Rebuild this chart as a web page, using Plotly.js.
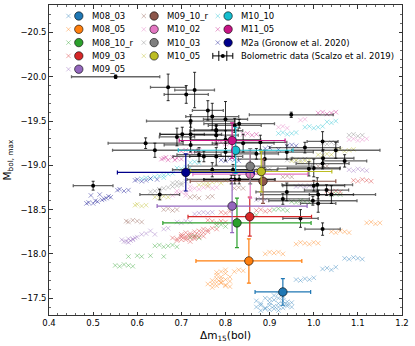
<!DOCTYPE html>
<html>
<head>
<meta charset="utf-8">
<script src="https://cdn.plot.ly/plotly-3.0.1.min.js"></script>
<style>html,body{margin:0;padding:0;background:#fff}</style>
</head>
<body>
<div id="plot" style="width:415px;height:346px"></div>
<script>
// model names, colours and mean values (with 1-sigma spread)
const modelNames = ['M08_03', 'M08_05', 'M08_10_r', 'M09_03', 'M09_05', 'M09_10_r',
    'M10_02', 'M10_03', 'M10_05', 'M10_10', 'M11_05', 'M2a (Gronow et al. 2020)'];
const modelColors = ['#1f77b4', '#ff7f0e', '#2ca02c', '#d62728', '#9467bd', '#8c564b',
    '#e377c2', '#7f7f7f', '#bcbd22', '#17becf', '#c71585', '#00008b'];
const meanDm15 = [0.930, 0.853, 0.826, 0.855, 0.815, 0.885, 0.856, 0.856, 0.881, 0.823, 0.815, 0.710];
const meanMbol = [-17.57, -17.92, -18.35, -18.42, -18.54, -18.82, -18.90, -18.99, -18.93, -19.17, -19.28, -18.92];
const meanDm15Err = [0.063, 0.12, 0.168, 0.14, 0.17, 0.165, 0.13, 0.14, 0.16, 0.13, 0.12, 0.155];
const meanMbolErr = [0.15, 0.25, 0.28, 0.22, 0.30, 0.25, 0.27, 0.20, 0.23, 0.26, 0.20, 0.21];

// viewing-angle samples per model
const m08_03_x = [0.87,0.88,0.89,0.90,0.91,0.92,0.93,0.94,0.95,0.87,0.88,0.89,0.90,0.91,0.92,0.93,0.94,0.95,0.88,0.90,0.91,0.92,0.93,0.94,0.89,0.91,0.92,0.93,0.90,0.92,0.96,0.97,0.98,0.99,1.00,1.02,1.03,1.04,1.05,1.07,1.08,1.09,1.10,1.11];
const m08_03_y = [-17.40,-17.42,-17.38,-17.45,-17.41,-17.44,-17.39,-17.43,-17.40,-17.47,-17.36,-17.50,-17.37,-17.48,-17.40,-17.52,-17.46,-17.45,-17.44,-17.42,-17.53,-17.50,-17.47,-17.41,-17.39,-17.38,-17.55,-17.43,-17.49,-17.36,-17.71,-17.70,-17.72,-17.71,-17.73,-17.83,-17.84,-17.82,-17.85,-17.95,-17.94,-17.96,-17.95,-17.94];
const m08_05_x = [0.77,0.78,0.79,0.80,0.81,0.77,0.78,0.79,0.80,0.81,0.78,0.79,0.80,0.76,0.77,0.79,0.80,0.78,0.79,0.81,0.82,0.83,0.84,0.80,0.78,0.89,0.90,0.91,0.92,0.93,0.96,0.97,0.98,0.99,1.00,1.01,1.04,1.05,1.06,1.07,1.08,1.12,1.13,1.14,1.15];
const m08_05_y = [-17.66,-17.64,-17.67,-17.65,-17.63,-17.70,-17.72,-17.68,-17.71,-17.69,-17.76,-17.74,-17.78,-17.66,-17.62,-17.80,-17.64,-17.68,-17.71,-17.74,-17.80,-17.82,-17.81,-17.82,-17.79,-18.00,-18.02,-18.01,-18.02,-18.00,-18.11,-18.13,-18.12,-18.11,-18.13,-18.12,-18.25,-18.24,-18.26,-18.25,-18.24,-18.35,-18.36,-18.34,-18.35];
const m08_10_r_x = [0.55,0.56,0.57,0.58,0.59,0.58,0.60,0.61,0.63,0.66,0.64,0.65,0.66,0.67,0.68,0.69,0.72,0.73,0.74,0.78,0.79,0.80,0.86,0.87,0.91,0.92,0.93,0.94,0.95,0.96,0.97,0.98,0.99,1.04,1.05,1.06];
const m08_10_r_y = [-17.87,-17.86,-17.88,-17.87,-17.86,-17.97,-17.98,-17.97,-17.98,-17.97,-18.09,-18.10,-18.08,-18.09,-18.10,-18.08,-18.19,-18.20,-18.18,-18.32,-18.33,-18.31,-18.43,-18.44,-18.50,-18.51,-18.50,-18.49,-18.59,-18.58,-18.60,-18.59,-18.58,-18.67,-18.68,-18.67];
const m09_03_x = [0.68,0.69,0.70,0.71,0.72,0.73,0.74,0.75,0.69,0.70,0.71,0.72,0.73,0.74,0.70,0.71,0.72,0.73,0.71,0.72,0.74,0.75,0.76,0.70,0.73,0.75,0.76,0.77,0.78,0.78,0.79,0.80,0.76,0.77,0.79,0.80,0.81,0.87,0.88,0.89,0.90,1.03,1.04,1.05,1.06,1.09,1.10,1.11,1.12,1.13];
const m09_03_y = [-18.18,-18.17,-18.19,-18.20,-18.18,-18.21,-18.22,-18.24,-18.15,-18.22,-18.16,-18.23,-18.17,-18.19,-18.20,-18.24,-18.14,-18.25,-18.18,-18.21,-18.26,-18.20,-18.25,-18.16,-18.19,-18.28,-18.27,-18.29,-18.28,-18.35,-18.37,-18.36,-18.38,-18.37,-18.47,-18.46,-18.48,-18.49,-18.50,-18.48,-18.49,-18.71,-18.70,-18.71,-18.70,-18.83,-18.82,-18.84,-18.83,-18.82];
const m09_05_x = [0.565,0.575,0.58,0.585,0.59,0.595,0.60,0.57,0.58,0.59,0.61,0.62,0.63,0.64,0.66,0.67,0.69,0.70,0.71,0.72,0.73,0.74,0.75,0.76,0.77,0.87,0.88,0.89,0.96,0.97,0.98,0.99,1.00,1.08,1.09,1.10,1.11,1.12];
const m09_05_y = [-18.16,-18.14,-18.17,-18.15,-18.16,-18.18,-18.19,-18.14,-18.13,-18.17,-18.22,-18.23,-18.26,-18.22,-18.28,-18.29,-18.36,-18.35,-18.37,-18.36,-18.45,-18.46,-18.47,-18.46,-18.47,-18.61,-18.62,-18.61,-18.76,-18.77,-18.76,-18.77,-18.76,-18.95,-18.94,-18.96,-18.95,-18.94];
const m09_10_r_x = [0.575,0.58,0.59,0.60,0.61,0.66,0.67,0.68,0.69,0.72,0.73,0.74,0.76,0.77,0.82,0.83,0.84,0.93,0.94,0.95,1.01,1.02,1.03];
const m09_10_r_y = [-18.37,-18.36,-18.38,-18.37,-18.36,-18.50,-18.51,-18.49,-18.50,-18.64,-18.65,-18.63,-18.64,-18.65,-18.74,-18.75,-18.74,-18.87,-18.88,-18.87,-18.99,-19.00,-18.99];
const m10_02_x = [0.68,0.69,0.70,0.71,0.72,0.73,0.74,0.69,0.71,0.72,0.75,0.76,0.77,0.78,0.85,0.86,0.87,0.92,0.93,0.94,0.97,0.98,1.08,1.09,1.10,1.11,1.12];
const m10_02_y = [-18.66,-18.68,-18.70,-18.69,-18.72,-18.74,-18.73,-18.71,-18.66,-18.76,-18.75,-18.76,-18.74,-18.75,-18.93,-18.94,-18.92,-19.43,-19.44,-19.42,-19.51,-19.52,-19.29,-19.30,-19.28,-19.29,-19.30];
const m10_03_x = [0.63,0.64,0.65,0.66,0.67,0.68,0.69,0.70,0.68,0.69,0.70,0.71,0.87,0.88,0.89,0.90,0.94,0.95,0.96,0.97,0.98,1.02,1.03,1.04,1.05,1.08,1.09,1.10,1.11];
const m10_03_y = [-18.70,-18.71,-18.73,-18.74,-18.75,-18.76,-18.77,-18.78,-18.80,-18.81,-18.80,-18.82,-18.96,-18.97,-18.95,-18.96,-19.06,-19.07,-19.05,-19.06,-19.07,-19.25,-19.24,-19.26,-19.25,-19.34,-19.35,-19.33,-19.34];
const m10_05_x = [0.595,0.60,0.61,0.62,0.64,0.65,0.66,0.67,0.74,0.75,0.76,0.77,0.78,0.79,0.80,0.76,0.95,0.96,0.97,0.98,0.99,1.01,1.02,1.03,1.04,1.05,1.06,1.07,1.08,1.09];
const m10_05_y = [-18.55,-18.56,-18.54,-18.55,-18.64,-18.63,-18.65,-18.64,-18.78,-18.79,-18.80,-18.81,-18.82,-18.80,-18.83,-18.77,-19.05,-19.06,-19.04,-19.05,-19.06,-19.12,-19.11,-19.13,-19.12,-19.17,-19.18,-19.16,-19.17,-19.18];
const m10_10_x = [0.61,0.62,0.63,0.64,0.65,0.66,0.67,0.68,0.66,0.69,0.70,0.71,0.72,0.72,0.73,0.74,0.92,0.93,0.94,0.95,0.96,0.98,0.99,1.00,1.01,1.02,1.03,1.04,1.05];
const m10_10_y = [-18.85,-18.86,-18.85,-18.87,-18.88,-18.89,-18.90,-18.91,-18.86,-18.97,-18.96,-18.98,-18.97,-19.03,-19.04,-19.03,-19.36,-19.37,-19.35,-19.36,-19.37,-19.43,-19.44,-19.42,-19.43,-19.44,-19.49,-19.48,-19.50];
const m11_05_x = [0.655,0.66,0.67,0.68,0.69,0.70,0.665,0.685,0.70,0.71,0.72,0.73,0.74,0.78,0.79,0.80,0.81,0.84,0.85,0.86,0.87,1.01,1.02,1.03,1.04,1.05];
const m11_05_y = [-19.07,-19.08,-19.06,-19.09,-19.08,-19.07,-19.09,-19.06,-19.16,-19.17,-19.15,-19.16,-19.17,-19.25,-19.26,-19.24,-19.25,-19.35,-19.36,-19.34,-19.35,-19.59,-19.60,-19.58,-19.59,-19.60];
const m2a_x = [0.485,0.49,0.50,0.505,0.51,0.52,0.525,0.53,0.54,0.495,0.515,0.535,0.555,0.56,0.57,0.58,0.595,0.60,0.61,0.62,0.63,0.645,0.79,0.80,0.81,0.82,0.83,0.89,0.90,0.92,0.94,0.95,0.96];
const m2a_y = [-18.57,-18.58,-18.57,-18.60,-18.59,-18.61,-18.62,-18.63,-18.64,-18.66,-18.67,-18.65,-18.72,-18.73,-18.71,-18.72,-18.83,-18.84,-18.82,-18.83,-18.85,-18.84,-19.06,-19.05,-19.07,-19.06,-19.05,-19.19,-19.20,-19.18,-19.22,-19.23,-19.22];

const sampleX = [m08_03_x, m08_05_x, m08_10_r_x, m09_03_x, m09_05_x, m09_10_r_x, m10_02_x, m10_03_x, m10_05_x, m10_10_x, m11_05_x, m2a_x];
const sampleY = [m08_03_y, m08_05_y, m08_10_r_y, m09_03_y, m09_05_y, m09_10_r_y, m10_02_y, m10_03_y, m10_05_y, m10_10_y, m11_05_y, m2a_y];

// Scalzo et al. 2019 bolometric data
const obsDm15 = [0.551,0.670,0.711,0.730,0.760,0.770,0.721,0.800,0.831,0.821,0.949,0.779,0.690,0.702,0.721,0.619,0.640,0.721,0.740,0.751,0.779,0.770,0.779,0.840,0.800,0.879,1.020,0.980,1.050,0.800,0.870,0.889,0.939,1.021,1.070,1.020,0.817,0.989,1.000,0.821,0.831,0.813,1.008,0.939,1.000,1.029,1.010,1.040,0.930,0.998,1.010,0.970,1.020,0.500,0.651,0.779];
const obsMbol = [-20.00,-19.88,-19.80,-19.85,-19.62,-19.55,-19.50,-19.52,-19.47,-19.45,-19.57,-19.39,-19.32,-19.35,-19.35,-19.25,-19.17,-19.23,-19.12,-19.10,-19.10,-18.95,-19.34,-19.25,-19.29,-19.26,-19.27,-19.20,-19.17,-19.15,-19.13,-19.07,-19.15,-19.08,-19.05,-19.02,-18.95,-18.96,-18.97,-18.84,-18.84,-18.84,-18.78,-18.70,-18.77,-18.72,-18.67,-18.67,-18.62,-18.60,-18.57,-18.40,-18.28,-18.77,-18.67,-19.40];
const obsDm15Err = [0.10,0.04,0.05,0.045,0.035,0.06,0.10,0.05,0.08,0.06,0.095,0.06,0.04,0.05,0.07,0.085,0.096,0.06,0.05,0.07,0.06,0.09,0.05,0.07,0.08,0.06,0.035,0.08,0.10,0.07,0.05,0.06,0.06,0.07,0.05,0.06,0.10,0.07,0.06,0.07,0.08,0.10,0.08,0.07,0.07,0.05,0.13,0.05,0.06,0.10,0.04,0.04,0.04,0.045,0.045,0.05];
const obsMbolErr = [0.02,0.15,0.10,0.20,0.11,0.15,0.07,0.20,0.05,0.08,0.03,0.06,0.10,0.08,0.12,0.06,0.08,0.08,0.08,0.06,0.10,0.08,0.10,0.10,0.10,0.08,0.11,0.06,0.09,0.10,0.06,0.10,0.08,0.10,0.07,0.06,0.06,0.08,0.10,0.05,0.05,0.05,0.08,0.10,0.06,0.06,0.05,0.10,0.06,0.05,0.10,0.10,0.07,0.05,0.06,0.06];

function hexToRgba(hex, a) {
    const n = parseInt(hex.slice(1), 16);
    return `rgba(${(n >> 16) & 255},${(n >> 8) & 255},${n & 255},${a})`;
}

const data = [];

modelNames.forEach((name, i) => {
    const c = hexToRgba(modelColors[i], 0.45);
    data.push({
        x: sampleX[i], y: sampleY[i],
        mode: 'markers', type: 'scatter', showlegend: false, hoverinfo: 'skip',
        marker: { symbol: 'x-thin', size: 4.5, color: c, line: { width: 0.9, color: c } }
    });
});

data.push({
    x: obsDm15, y: obsMbol,
    mode: 'markers', type: 'scatter', showlegend: false,
    marker: { color: 'black', size: 4 },
    error_x: { type: 'data', array: obsDm15Err, color: 'rgba(0,0,0,0.6)', thickness: 1.3, width: 1.5 },
    error_y: { type: 'data', array: obsMbolErr, color: 'rgba(0,0,0,0.8)', thickness: 1, width: 1.5 }
});

modelNames.forEach((name, i) => {
    data.push({
        x: [meanDm15[i]], y: [meanMbol[i]],
        mode: 'markers', type: 'scatter', showlegend: false,
        marker: { color: modelColors[i], size: 8.5, line: { color: 'black', width: 0.6 } },
        error_x: { type: 'data', array: [meanDm15Err[i]], color: modelColors[i], thickness: 1.2, width: 2 },
        error_y: { type: 'data', array: [meanMbolErr[i]], color: modelColors[i], thickness: 1.2, width: 2 }
    });
});

// hand-placed legend, three columns (plot area is 49..402 x 5..315 px)
const L = 49, R = 402, T = 5, B = 315;
const px = v => (v - L) / (R - L);
const py = v => (B - v) / (B - T);
const rowY = [16, 29.3, 42.6, 55.9, 69.2];
const colX = [68.5, 143.8, 217.8];
const shapes = [];
const annotations = [];
const legendText = modelNames.concat(['Bolometric data (Scalzo et al. 2019)']);
legendText.forEach((txt, i) => {
    const col = i < 5 ? 0 : (i < 9 ? 1 : 2);
    const row = i < 5 ? i : (i < 9 ? i - 5 : i - 9);
    const cx = colX[col], cy = rowY[row];
    if (i < modelNames.length) {
        const c = hexToRgba(modelColors[i], 0.45);
        shapes.push({
            type: 'path', xref: 'paper', yref: 'paper', xsizemode: 'pixel', ysizemode: 'pixel',
            xanchor: px(cx), yanchor: py(cy),
            path: 'M-2.2,-2.2L2.2,2.2M-2.2,2.2L2.2,-2.2', line: { color: c, width: 0.9 }
        });
        shapes.push({
            type: 'circle', xref: 'paper', yref: 'paper', xsizemode: 'pixel', ysizemode: 'pixel',
            xanchor: px(cx + 10.3), yanchor: py(cy), x0: -4.2, x1: 4.2, y0: -4.2, y1: 4.2,
            fillcolor: modelColors[i], line: { color: 'black', width: 0.6 }
        });
    } else {
        shapes.push({
            type: 'path', xref: 'paper', yref: 'paper', xsizemode: 'pixel', ysizemode: 'pixel',
            xanchor: px(cx + 5), yanchor: py(cy),
            path: 'M-10,0L10,0M-10,-3L-10,3M10,-3L10,3M-4,-5L-4,5M4,-5L4,5',
            line: { color: 'black', width: 1 }
        });
        shapes.push({
            type: 'circle', xref: 'paper', yref: 'paper', xsizemode: 'pixel', ysizemode: 'pixel',
            xanchor: px(cx + 5), yanchor: py(cy), x0: -2, x1: 2, y0: -2, y1: 2,
            fillcolor: 'black', line: { color: 'black', width: 0 }
        });
    }
    annotations.push({
        xref: 'paper', yref: 'paper', x: px(cx + 21), y: py(cy), xanchor: 'left', yanchor: 'middle',
        text: txt, showarrow: false, font: { size: 8.5, color: 'black' }
    });
});

const axisCommon = {
    ticks: 'inside', ticklen: 3.5, tickwidth: 0.8, tickcolor: 'black',
    showline: true, linecolor: 'black', linewidth: 0.8, mirror: 'allticks',
    showgrid: false, zeroline: false, tickformat: '.1f',
    tickfont: { size: 8.5, color: 'black' }
};

const layout = {
    width: 415, height: 346,
    margin: { l: L, r: 415 - R, t: T, b: 346 - B },
    paper_bgcolor: 'white', plot_bgcolor: 'white',
    font: { family: 'DejaVu Sans', color: 'black' },
    showlegend: false,
    xaxis: Object.assign({}, axisCommon, {
        range: [0.4, 1.2], tick0: 0.4, dtick: 0.1,
        minor: { dtick: 0.02, ticks: 'inside', ticklen: 2, tickwidth: 0.6, tickcolor: 'black' },
        title: { text: 'Δm<sub>15</sub>(bol)', font: { size: 10.5 }, standoff: 4 }
    }),
    yaxis: Object.assign({}, axisCommon, {
        range: [-17.31, -20.81], dtick: 0.5,
        minor: { dtick: 0.1, ticks: 'inside', ticklen: 2, tickwidth: 0.6, tickcolor: 'black' },
        title: { text: 'M<sub>bol, max</sub>', font: { size: 10.5 }, standoff: 6 }
    }),
    shapes: shapes,
    annotations: annotations
};

Plotly.newPlot('plot', data, layout, { displayModeBar: false, staticPlot: true });
</script>
</body>
</html>
